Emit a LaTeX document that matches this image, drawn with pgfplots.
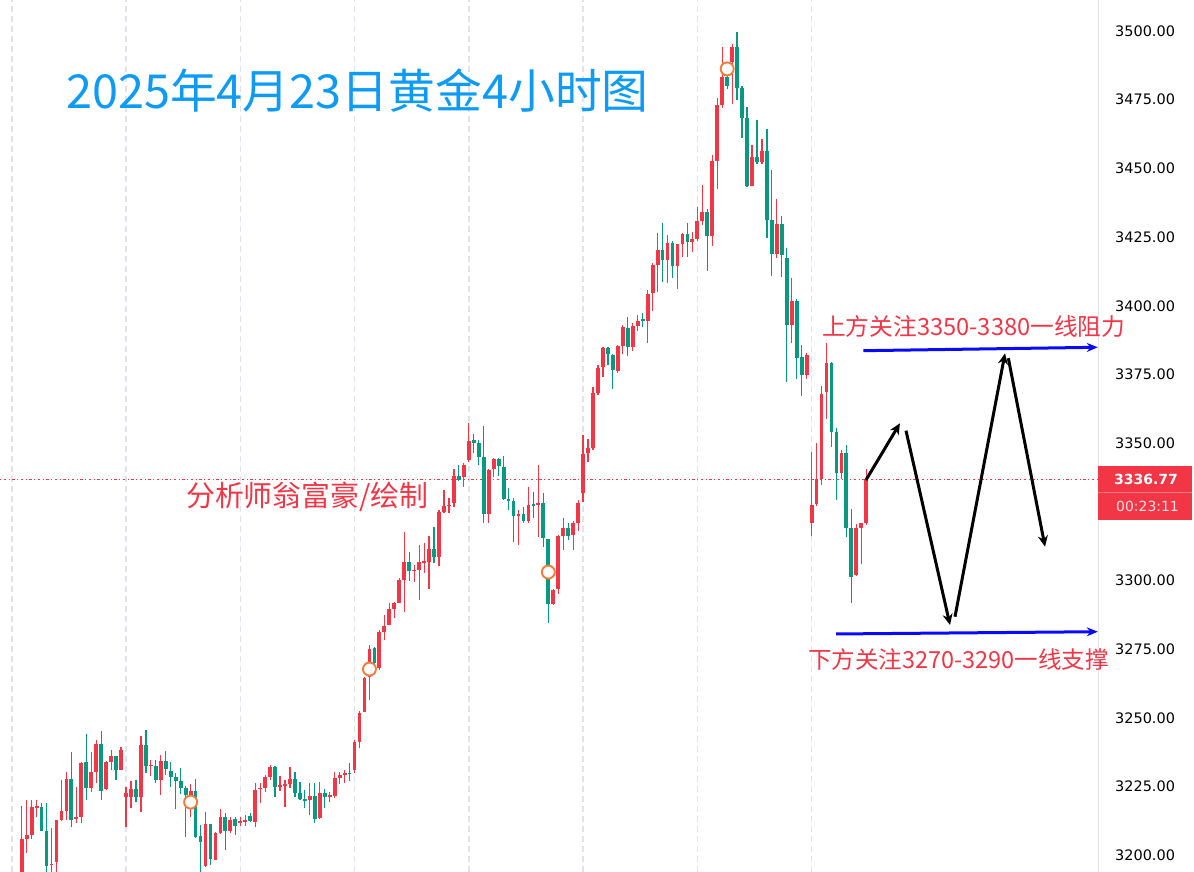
\documentclass[border=0pt]{standalone}
\usepackage{pgfplots}
\usepackage{pgfplotstable}
\pgfplotsset{compat=1.18}
\usetikzlibrary{arrows.meta}
\usepackage{fontspec}
\setmainfont{DejaVu Sans}
\newfontfamily\cjk{Noto Sans CJK SC}
\newfontfamily\dv{DejaVu Sans}

\definecolor{upc}{RGB}{242,54,69}
\definecolor{dnc}{RGB}{8,153,129}
\definecolor{gridc}{RGB}{224,227,235}
\definecolor{titlec}{RGB}{14,155,245}
\definecolor{markc}{RGB}{245,124,56}
\definecolor{linec}{RGB}{10,10,250}

% 4h candles: index, open, high, low, close
\pgfplotstableread{
i o h l c
1 3192 3218 3190 3205.9
2 3206 3220 3201 3207.5
3 3207.5 3220 3206 3217.5
4 3217.5 3220 3214 3218
5 3217.7 3219 3209 3209
6 3209 3219.2 3192 3196.3
7 3196.5 3210 3193 3197
8 3197.7 3213 3193 3212.7
9 3212.7 3227.5 3212.5 3216.2
10 3216.3 3230.3 3212.9 3227.8
11 3227.8 3237.8 3210.5 3212.9
12 3213.5 3224.8 3211.7 3214
13 3214.1 3234 3211.7 3233.8
14 3233.9 3244.2 3220.2 3224.4
15 3224.4 3237.8 3223.2 3230.3
16 3230.3 3242 3226.3 3240.6
17 3240.6 3245.4 3220.2 3223.6
18 3224.2 3234.3 3223.8 3234.1
19 3234.1 3238.4 3231.1 3236
20 3236 3236.2 3227.5 3231.1
21 3231.1 3239.6 3231 3238.4
22 3221.4 3225 3210.2 3222.6
23 3221.4 3227.2 3217.2 3224.1
24 3224.1 3227.5 3219.6 3221.4
25 3221.4 3243.5 3215.9 3240.2
26 3240.2 3245.7 3229.9 3232.6
27 3232.5 3234.7 3229 3233
28 3232.6 3234.7 3226.5 3227.5
29 3227.5 3236.6 3222 3234.5
30 3234.5 3238.1 3229.3 3231.4
31 3230.9 3234.1 3225 3228.4
32 3228.4 3229.9 3216.8 3227.2
33 3227.2 3231.7 3222.4 3224.4
34 3224.4 3225.3 3206.8 3222
35 3219 3226 3214.1 3223.6
36 3223.6 3227.7 3206.5 3206.8
37 3207.1 3211.1 3193 3205
38 3196 3215.9 3195.8 3211.3
39 3211.3 3211.5 3196.5 3198.6
40 3198.4 3208.6 3198.2 3208
41 3208 3216.8 3207.8 3214.1
42 3214.1 3215.3 3202 3208.7
43 3208.7 3214.1 3208.1 3212.9
44 3213.2 3213.9 3207.4 3210.7
45 3212 3214.1 3210.7 3212.3
46 3212.5 3214.7 3210.7 3212.7
47 3214.5 3215.5 3212 3212.5
48 3212.3 3226.3 3210.5 3223.8
49 3224.2 3226.3 3219 3224.6
50 3224.4 3229.3 3223.2 3228.7
51 3228.7 3232.9 3227.5 3232.3
52 3232.3 3232.5 3221.1 3225
53 3225.2 3228.9 3223.5 3225.6
54 3225.5 3227.5 3217.8 3225.9
55 3226 3232.3 3224.4 3227.7
56 3227.7 3230.5 3221.4 3222.8
57 3222.8 3226.8 3220.2 3220.4
58 3220.4 3223.8 3217.1 3220.1
59 3220.2 3226.2 3214.7 3221.6
60 3221.6 3226.2 3211.7 3213.1
61 3213.5 3226.8 3213.3 3222.8
62 3222.8 3224 3217.1 3221.4
63 3221.5 3223.2 3219.6 3221.8
64 3221.6 3230.5 3220.8 3228
65 3228 3230.5 3226 3229.3
66 3229.6 3231.1 3226.3 3229.9
67 3230 3233.5 3226.9 3229.7
68 3231.1 3242 3230.1 3241.4
69 3241.4 3252.4 3239 3252
70 3252 3265 3252 3264.4
71 3265 3276.5 3256.6 3275
72 3275.4 3275.8 3269.5 3269.9
73 3268.1 3282 3267.5 3281.4
74 3281.4 3287.5 3278.4 3283.5
75 3283.9 3291.8 3283.7 3289.6
76 3289.6 3292.4 3286.3 3291.8
77 3292 3300.8 3291.8 3300.2
78 3300.2 3317.8 3288.7 3306.9
79 3306.9 3310.5 3299.7 3303.6
80 3303.6 3305.7 3299.6 3303.9
81 3303.9 3313 3293 3306.7
82 3306.8 3313.6 3302.7 3307
83 3306.9 3316.2 3296.9 3311.4
84 3311.4 3319.4 3306.5 3308.7
85 3308.7 3325.7 3305.3 3325.1
86 3325.1 3333 3324.5 3327.2
87 3327.3 3330 3324.5 3327.6
88 3328.4 3340.5 3326.9 3338.1
89 3338.1 3342 3336.4 3336.6
90 3337.8 3342.7 3334.2 3342.1
91 3343.9 3357.5 3343 3350.9
92 3351.2 3353.4 3346.3 3350
93 3350.2 3351.2 3342.1 3345.1
94 3345.1 3356.3 3320.9 3324.3
95 3324.3 3340.5 3320.9 3340.3
96 3340.5 3344.5 3337.8 3344.3
97 3344.3 3344.5 3338.1 3341.7
98 3341.5 3345.4 3329.3 3329.6
99 3329.6 3333.6 3325.7 3329.1
100 3329.1 3330 3314.2 3323.5
101 3323.8 3325.7 3313 3324.1
102 3324.1 3326.9 3320.9 3321.8
103 3321.8 3334 3320.9 3327.5
104 3327.7 3332.4 3322.7 3327.4
105 3327.5 3342.1 3315.8 3328.1
106 3328.1 3332 3312.4 3315.4
107 3315 3315.2 3284.5 3291.5
108 3291.5 3296.8 3291.1 3296.6
109 3296.8 3316.6 3295.1 3316.3
110 3316.3 3322.7 3311.2 3319
111 3319 3320.9 3314.8 3316.3
112 3316.6 3321.8 3311.2 3320.9
113 3320.9 3329.3 3318.2 3328.4
114 3331.8 3353 3328.7 3346
115 3346.3 3351.4 3343.3 3348.1
116 3348.1 3370.5 3347.5 3368.4
117 3368.4 3378.5 3367.5 3377.2
118 3377.6 3385.1 3374.2 3384.5
119 3384.5 3385.1 3378.5 3382.5
120 3382.1 3382.3 3369.6 3376.6
121 3376.4 3385.6 3375.7 3385.4
122 3385.4 3393 3382.5 3392.4
123 3391.8 3395.8 3381.7 3385.1
124 3385.1 3393.9 3383.7 3392.7
125 3392.7 3396.7 3391 3394.6
126 3394.9 3397.5 3392.2 3394.7
127 3394.6 3405.8 3386.3 3404.3
128 3404.5 3415.5 3398.2 3414.9
129 3414.9 3426.6 3405.1 3420.3
130 3420.3 3430 3408.8 3416.7
131 3416.7 3425.8 3408.2 3422.7
132 3422.7 3423.7 3410 3414.5
133 3414.5 3422.6 3406 3422.4
134 3422.4 3426.4 3417.9 3426.1
135 3426.1 3430.3 3417.6 3423.3
136 3423.3 3426.7 3419.7 3424.2
137 3424.2 3435.8 3423.7 3430.9
138 3430.9 3444 3429.4 3434.3
139 3434 3435.2 3412.7 3425.5
140 3425.5 3454.9 3421.9 3452.7
141 3452.7 3475.5 3442.5 3473.1
142 3473 3494.3 3472.1 3483.4
143 3483.4 3486 3479 3480
144 3488.9 3495.2 3473.3 3494
145 3494 3499.5 3474.9 3479.4
146 3479.4 3480 3461 3468.5
147 3468.2 3472.5 3443.1 3443.7
148 3443.7 3458.5 3443.5 3454.3
149 3454.3 3467.6 3451.5 3452.5
150 3452.5 3460.7 3451.5 3456.3
151 3456.3 3464.4 3424.6 3431.2
152 3431.2 3449.4 3411 3418.7
153 3418.7 3438.9 3417.5 3429.7
154 3429.7 3432.8 3410.6 3418.5
155 3417.3 3421 3372.4 3393
156 3393 3410 3386.4 3401.9
157 3401.9 3402.4 3373.3 3380.9
158 3381.5 3385.8 3367 3374.8
159 3374.8 3382.7 3373.3 3382.1
160 3321.1 3346.9 3316.2 3327.5
161 3327.9 3350 3327.2 3336.9
162 3336.9 3370.8 3334.8 3367.9
163 3368.8 3386.4 3358.7 3379.1
164 3379.1 3379.4 3348.5 3354.2
165 3354.2 3355.4 3329.4 3339.1
166 3339.1 3347.5 3336.9 3346.6
167 3346.6 3349.4 3316 3319.3
168 3319 3325.9 3291.7 3301.2
169 3302.1 3320.6 3301.5 3319
170 3319 3321 3306 3320.9
171 3321.1 3340.5 3320.2 3336.77
}\candles

\pgfplotsset{
  wick/.style={draw=none, mark=none, forget plot,
    error bars/y dir=both, error bars/y explicit, error bars/error mark=none,
    error bars/error bar style={draw=#1, line width=1.2bp}},
  body/.style={draw=none, mark=none, forget plot,
    error bars/y dir=both, error bars/y explicit, error bars/error mark=none,
    error bars/error bar style={draw=#1, line width=3.8bp}},
  up/.style={restrict expr to domain={\thisrow{c}-\thisrow{o}}{0:1000}},
  down/.style={restrict expr to domain={\thisrow{c}-\thisrow{o}}{-1000:-0.00001}},
}

\begin{document}
\begin{tikzpicture}[x=1bp,y=1bp]
\useasboundingbox (0,0) rectangle (1194,872);
\begin{axis}[
  at={(0,0)}, anchor=south west,
  width=1098bp, height=872bp, scale only axis,
  xmin=-3.368, xmax=217.65, ymin=3193.96, ymax=3511.28,
  axis line style={draw=none},
  xtick={-1,22,45,68,91,114,137,160}, xticklabels={},
  xmajorgrids,
  grid style={color=gridc, line width=1.5bp, dash pattern=on 6bp off 4bp},
  % the 3325 level sits under the last price tag
  ytick={3200,3225,3250,3275,3300,3350,3375,3400,3425,3450,3475,3500},
  yticklabel pos=right,
  major tick length=0pt,
  yticklabel style={anchor=west, inner sep=0pt, xshift=17bp,
    font=\dv\fontsize{14.5}{16}\selectfont},
  yticklabel={\pgfmathprintnumber[fixed, fixed zerofill, precision=2, 1000 sep={}, assume math mode=true]{\tick}},
]
% last price line
\addplot[upc, line width=1bp, dash pattern=on 1bp off 2.5bp on 2.5bp off 2.5bp, forget plot]
  coordinates {(-3.368,3336.77) (217.65,3336.77)};

% wicks
\addplot[up, wick=upc] table[x=i, y expr={(\thisrow{h}+\thisrow{l})/2}, y error expr={(\thisrow{h}-\thisrow{l})/2}] {\candles};
\addplot[down, wick=dnc] table[x=i, y expr={(\thisrow{h}+\thisrow{l})/2}, y error expr={(\thisrow{h}-\thisrow{l})/2}] {\candles};
% bodies
\addplot[up, body=upc] table[x=i, y expr={(\thisrow{o}+\thisrow{c})/2}, y error expr={max(abs(\thisrow{o}-\thisrow{c})/2,0.22)}] {\candles};
\addplot[down, body=dnc] table[x=i, y expr={(\thisrow{o}+\thisrow{c})/2}, y error expr={max(abs(\thisrow{o}-\thisrow{c})/2,0.22)}] {\candles};

% signal markers
\addplot[only marks, mark=*, mark size=6.5bp, mark options={fill=white, draw=markc, line width=1.9bp}]
  coordinates {(35,3219.4) (71,3267.8) (107,3303.1) (143,3486.2)};

% support and resistance
\addplot[linec, line width=3bp, -{Stealth[length=11bp,width=9bp]}]
  coordinates {(170.41,3383.66) (217.6,3384.9)};
\addplot[linec, line width=3bp, -{Stealth[length=11bp,width=9bp]}]
  coordinates {(164.91,3280.57) (217.6,3281.4)};

% expected path
\addplot[black, line width=3bp, -{Stealth[length=11bp,width=10bp]}]
  coordinates {(170.94,3336.6) (177.78,3357.24)};
\addplot[black, line width=3bp, -{Stealth[length=11bp,width=10bp]}]
  coordinates {(179.0,3354.55) (187.86,3283.84)};
\addplot[black, line width=3bp, -{Stealth[length=11bp,width=10bp]}]
  coordinates {(188.86,3286.86) (198.93,3382.71)};
\addplot[black, line width=3bp, -{Stealth[length=11bp,width=10bp]}]
  coordinates {(199.6,3380.9) (206.98,3312.34)};
\end{axis}

% price scale border
\draw[gridc, line width=1bp] (1098,0) -- (1098,872);

% last price tag
\fill[upc] (1098,352) rectangle (1192,406);
\draw[white, opacity=0.35, line width=0.8bp] (1098,379.3) -- (1192,379.3);
\node[font=\dv\bfseries\fontsize{14}{16}\selectfont, text=white, inner sep=0pt] at (1146,393) {3336.77};
\node[font=\dv\fontsize{14}{16}\selectfont, text=white, text opacity=0.85, inner sep=0pt] at (1147.5,366) {00:23:11};

% titles and notes
\node[anchor=west, inner sep=0pt, text=titlec, font=\cjk\fontsize{47}{52}\selectfont] at (66,781) {2025年4月23日黄金4小时图};
\node[anchor=west, inner sep=0pt, text=upc, font=\cjk\fontsize{29}{32}\selectfont] at (186,375) {分析师翁富豪/绘制};
\node[anchor=west, inner sep=0pt, text=upc, font=\cjk\fontsize{23.8}{26}\selectfont] at (822,546) {上方关注3350-3380一线阻力};
\node[anchor=west, inner sep=0pt, text=upc, font=\cjk\fontsize{23.6}{26}\selectfont] at (808,212) {下方关注3270-3290一线支撑};
\end{tikzpicture}
\end{document}
